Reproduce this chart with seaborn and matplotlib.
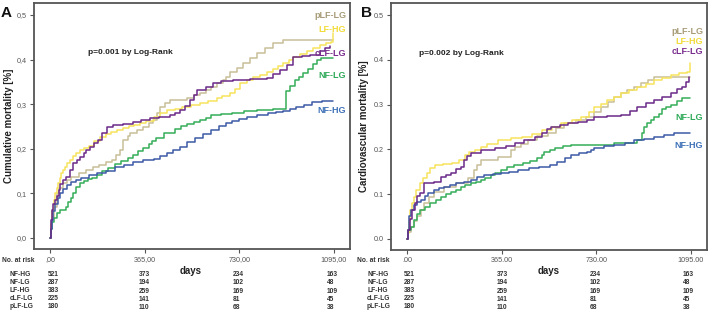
#!/usr/bin/env python3
# -*- coding: utf-8 -*-
"""Kaplan-Meier style cumulative mortality curves, two panels with risk tables."""

import pandas as pd
import matplotlib
matplotlib.use("Agg")
import matplotlib.pyplot as plt
import seaborn as sns

sns.set_style("white")
plt.rcParams['font.family'] = ['Liberation Sans', 'DejaVu Sans']

GROUPS = ['NF-HG', 'NF-LG', 'LF-HG', 'cLF-LG', 'pLF-LG']
COLORS = {
    'NF-HG': '#3d5aa6',
    'NF-LG': '#35ad57',
    'LF-HG': '#f6e35c',
    'cLF-LG': '#6b2a88',
    'pLF-LG': '#c9bf98',
}
LABEL_COLORS = {
    'NF-HG': '#3f72b8',
    'NF-LG': '#2faa5a',
    'LF-HG': '#f2dc3a',
    'cLF-LG': '#7a2e8e',
    'pLF-LG': '#a89c78',
}

# numbers at risk (same for both panels)
RISK_DAYS = [0, 365, 730, 1095]
RISK = {
    'NF-HG': [521, 373, 234, 163],
    'NF-LG': [287, 194, 102, 48],
    'LF-HG': [383, 259, 169, 109],
    'cLF-LG': [225, 141, 81, 45],
    'pLF-LG': [180, 110, 68, 38],
}

# ---- panel A: all-cause mortality ----
a_nfhg_t = [0, 2, 6, 12, 20, 30, 40, 50, 65, 80, 100, 120, 150, 180, 215, 250, 285, 320, 360, 400, 425, 450, 475,
            500, 530, 560, 590, 620, 650, 680, 700, 730, 760, 800, 840, 870, 900, 925, 950, 980, 1010, 1050, 1090]
a_nfhg_v = [0, 0.02, 0.04, 0.06, 0.075, 0.09, 0.1, 0.11, 0.118, 0.125, 0.13, 0.135, 0.14, 0.145, 0.15, 0.158, 0.163,
            0.17, 0.174, 0.178, 0.184, 0.19, 0.197, 0.205, 0.215, 0.225, 0.233, 0.243, 0.25, 0.257, 0.262, 0.267, 0.272,
            0.276, 0.28, 0.283, 0.285, 0.29, 0.293, 0.298, 0.305, 0.307, 0.307]
a_nflg_t = [0, 3, 8, 15, 25, 40, 60, 70, 80, 90, 100, 115, 130, 145, 160, 180, 200, 225, 250, 275, 300, 320, 340, 360,
            380, 395, 410, 440, 480, 505, 530, 555, 580, 600, 620, 660, 700, 750, 800, 860, 912, 925, 945, 960, 975,
            995, 1015, 1030, 1045, 1090]
a_nflg_v = [0, 0.02, 0.035, 0.045, 0.055, 0.062, 0.07, 0.08, 0.09, 0.1, 0.115, 0.122, 0.127, 0.131, 0.135, 0.142, 0.15,
            0.157, 0.165, 0.172, 0.18, 0.187, 0.195, 0.202, 0.21, 0.217, 0.225, 0.235, 0.245, 0.25, 0.255, 0.26, 0.265,
            0.27, 0.275, 0.278, 0.28, 0.284, 0.287, 0.29, 0.33, 0.34, 0.355, 0.362, 0.37, 0.38, 0.39, 0.399, 0.404, 0.404]
a_lfhg_t = [0, 3, 8, 14, 20, 26, 31, 38, 44, 50, 58, 66, 77, 88, 100, 116, 132, 150, 170, 193, 215, 236, 258, 280, 305,
            325, 347, 370, 400, 425, 450, 480, 510, 545, 578, 610, 643, 665, 694, 712, 732, 758, 784, 810, 836, 860,
            880, 898, 920, 937, 965, 990, 1015, 1040, 1065, 1085, 1093]
a_lfhg_v = [0, 0.03, 0.06, 0.085, 0.1, 0.113, 0.123, 0.135, 0.145, 0.152, 0.16, 0.168, 0.175, 0.183, 0.19, 0.197, 0.202,
            0.207, 0.217, 0.227, 0.232, 0.237, 0.242, 0.246, 0.25, 0.254, 0.258, 0.263, 0.272, 0.28, 0.287, 0.29, 0.294,
            0.298, 0.302, 0.307, 0.313, 0.318, 0.325, 0.335, 0.347, 0.354, 0.361, 0.366, 0.372, 0.38, 0.386, 0.392, 0.4,
            0.406, 0.413, 0.42, 0.427, 0.433, 0.437, 0.44, 0.46]
a_clflg_t = [0, 3, 8, 12, 18, 25, 33, 40, 50, 60, 75, 90, 102, 115, 130, 140, 154, 170, 185, 200, 219, 243, 280, 320,
             350, 385, 420, 462, 480, 501, 520, 540, 555, 566, 600, 630, 660, 706, 770, 836, 860, 887, 913, 937, 970,
             1002, 1040, 1060, 1080]
a_clflg_v = [0, 0.04, 0.063, 0.075, 0.085, 0.095, 0.108, 0.12, 0.13, 0.137, 0.152, 0.168, 0.175, 0.182, 0.19, 0.197,
             0.204, 0.212, 0.22, 0.235, 0.249, 0.253, 0.256, 0.26, 0.265, 0.269, 0.272, 0.276, 0.281, 0.287, 0.295,
             0.309, 0.32, 0.332, 0.338, 0.347, 0.351, 0.354, 0.356, 0.359, 0.368, 0.377, 0.388, 0.406, 0.408, 0.41,
             0.42, 0.425, 0.43]
a_plflg_t = [0, 4, 8, 15, 25, 35, 50, 65, 80, 110, 140, 165, 190, 215, 240, 255, 270, 282, 300, 310, 335, 360, 380, 398,
             412, 424, 445, 462, 527, 555, 578, 600, 620, 645, 668, 680, 694, 720, 745, 770, 797, 830, 860, 898, 1090]
a_plflg_v = [0, 0.03, 0.047, 0.07, 0.1, 0.112, 0.123, 0.13, 0.137, 0.145, 0.152, 0.158, 0.164, 0.17, 0.175, 0.185,
             0.197, 0.22, 0.228, 0.235, 0.242, 0.249, 0.257, 0.265, 0.28, 0.294, 0.302, 0.309, 0.313, 0.32, 0.325,
             0.332, 0.339, 0.347, 0.354, 0.362, 0.372, 0.382, 0.392, 0.403, 0.415, 0.426, 0.437, 0.444, 0.444]

# ---- panel B: cardiovascular mortality ----
b_nfhg_t = [0, 3, 8, 15, 25, 40, 54, 70, 81, 104, 125, 142, 165, 190, 220, 246, 270, 296, 330, 361, 395, 426, 470, 510,
            553, 580, 610, 634, 665, 695, 710, 722, 760, 799, 840, 876, 915, 953, 990, 1030, 1090]
b_nfhg_v = [0, 0.02, 0.05, 0.065, 0.075, 0.082, 0.087, 0.095, 0.103, 0.109, 0.113, 0.116, 0.12, 0.125, 0.128, 0.132,
            0.138, 0.143, 0.145, 0.147, 0.15, 0.154, 0.158, 0.161, 0.165, 0.172, 0.18, 0.188, 0.192, 0.195, 0.199,
            0.203, 0.207, 0.21, 0.215, 0.221, 0.224, 0.228, 0.232, 0.237, 0.237]
b_nflg_t = [0, 5, 15, 25, 40, 50, 70, 90, 110, 131, 150, 170, 190, 207, 225, 246, 265, 284, 300, 323, 340, 361, 385,
            411, 449, 475, 503, 520, 530, 550, 569, 600, 634, 700, 799, 887, 905, 914, 926, 940, 953, 970, 985, 1000,
            1018, 1040, 1060, 1090]
b_nflg_v = [0, 0.02, 0.027, 0.042, 0.055, 0.065, 0.072, 0.08, 0.087, 0.094, 0.1, 0.105, 0.11, 0.116, 0.12, 0.125,
            0.128, 0.132, 0.137, 0.143, 0.148, 0.154, 0.16, 0.165, 0.17, 0.175, 0.18, 0.188, 0.194, 0.199, 0.203,
            0.207, 0.21, 0.21, 0.214, 0.221, 0.237, 0.25, 0.259, 0.265, 0.272, 0.28, 0.29, 0.295, 0.3, 0.308, 0.315,
            0.315]
b_lfhg_t = [0, 3, 7, 12, 18, 25, 35, 50, 60, 75, 90, 108, 140, 173, 200, 223, 240, 261, 285, 310, 350, 400, 442, 480,
            519, 560, 595, 635, 672, 700, 722, 750, 772, 800, 826, 855, 887, 920, 953, 985, 1018, 1050, 1080, 1092]
b_lfhg_v = [0, 0.013, 0.04, 0.065, 0.08, 0.094, 0.11, 0.125, 0.135, 0.148, 0.158, 0.165, 0.168, 0.17, 0.176, 0.188,
            0.194, 0.199, 0.205, 0.212, 0.221, 0.225, 0.228, 0.235, 0.243, 0.25, 0.259, 0.265, 0.272, 0.283, 0.295,
            0.302, 0.31, 0.318, 0.326, 0.332, 0.339, 0.347, 0.355, 0.36, 0.366, 0.37, 0.373, 0.393]
b_clflg_t = [0, 3, 10, 20, 30, 40, 50, 65, 104, 131, 150, 170, 190, 207, 219, 232, 246, 284, 338, 380, 415, 450, 492,
             520, 540, 557, 590, 619, 660, 695, 722, 770, 826, 860, 887, 920, 953, 985, 1018, 1040, 1060, 1075, 1088]
b_clflg_v = [0, 0.02, 0.045, 0.065, 0.08, 0.095, 0.103, 0.125, 0.127, 0.138, 0.142, 0.147, 0.155, 0.161, 0.176, 0.185,
             0.192, 0.199, 0.203, 0.208, 0.214, 0.22, 0.228, 0.237, 0.245, 0.25, 0.255, 0.259, 0.262, 0.266, 0.272,
             0.274, 0.277, 0.285, 0.295, 0.303, 0.31, 0.318, 0.326, 0.335, 0.339, 0.35, 0.362]
b_plflg_t = [0, 5, 15, 25, 40, 55, 65, 85, 104, 142, 190, 234, 257, 270, 284, 350, 400, 415, 440, 465, 500, 542, 575,
             607, 650, 690, 720, 749, 775, 799, 825, 849, 875, 903, 930, 953, 1090]
b_plflg_v = [0, 0.015, 0.027, 0.04, 0.05, 0.065, 0.08, 0.093, 0.105, 0.116, 0.125, 0.136, 0.154, 0.165, 0.176, 0.183,
             0.199, 0.205, 0.213, 0.221, 0.229, 0.237, 0.248, 0.259, 0.265, 0.272, 0.283, 0.295, 0.306, 0.317, 0.325,
             0.333, 0.34, 0.348, 0.355, 0.362, 0.362]

PANEL_A = {
    'NF-HG': (a_nfhg_t, a_nfhg_v), 'NF-LG': (a_nflg_t, a_nflg_v),
    'LF-HG': (a_lfhg_t, a_lfhg_v), 'cLF-LG': (a_clflg_t, a_clflg_v),
    'pLF-LG': (a_plflg_t, a_plflg_v),
}
PANEL_B = {
    'NF-HG': (b_nfhg_t, b_nfhg_v), 'NF-LG': (b_nflg_t, b_nflg_v),
    'LF-HG': (b_lfhg_t, b_lfhg_v), 'cLF-LG': (b_clflg_t, b_clflg_v),
    'pLF-LG': (b_plflg_t, b_plflg_v),
}

W, H = 709, 312


def fx(px):
    return px / W


def fy(py):
    return 1 - py / H


def to_frame(curves):
    rows = []
    for g, (t, v) in curves.items():
        for ti, vi in zip(t, v):
            rows.append({'days': ti, 'value': vi, 'group': g})
    return pd.DataFrame(rows)


def draw_panel(fig, rect, curves, dec, ylabel, ylabel_x, ptext, ptext_x, label_y, letter, letter_x):
    ax = fig.add_axes(rect)
    df = to_frame(curves)
    # pale curves first so the darker ones sit on top
    order = ['pLF-LG', 'LF-HG', 'NF-LG', 'NF-HG', 'cLF-LG']
    for g in order:
        sub = df[df['group'] == g]
        sns.lineplot(data=sub, x='days', y='value', color=COLORS[g],
                     drawstyle='steps-post', estimator=None, sort=False,
                     linewidth=1.1, ax=ax, legend=False)
    ax.set_xlim(-62, 1157)
    ax.set_ylim(-0.025, 0.527)
    ax.set_xticks(RISK_DAYS)
    ax.set_xticklabels([dec + '00', '365' + dec + '00', '730' + dec + '00', '1095' + dec + '00'])
    ax.set_yticks([0, 0.1, 0.2, 0.3, 0.4, 0.5])
    ax.set_yticklabels(['0' + dec + str(i) for i in range(6)])
    ax.tick_params(axis='both', direction='out', length=3, width=0.8,
                   labelsize=5.2, colors='#555555', pad=2,
                   left=True, bottom=True)
    ax.set_xlabel('')
    ax.set_ylabel(ylabel, fontsize=7, fontweight='bold', color='#222222')
    ax.yaxis.set_label_coords(ylabel_x, 0.5)
    for s in ax.spines.values():
        s.set_color('#555555')
        s.set_linewidth(1.3)
    ax.text(ptext_x, 0.797, ptext, transform=ax.transAxes, fontsize=6,
            fontweight='bold', color='#222222', va='center')
    # group labels at the right end of the curves
    x_right = rect[0] + rect[2] - fx(4)
    for g, y in label_y.items():
        fig.text(x_right, fy(y), g, ha='right', va='center', fontsize=6.5,
                 fontweight='bold', color=LABEL_COLORS[g])
    fig.text(fx(letter_x), fy(13), letter, fontsize=11, fontweight='bold',
             va='center', ha='left', color='#111111')
    return ax


fig = plt.figure(figsize=(W / 100, H / 100), dpi=100)

rect_a = [fx(34), fy(249), fx(350 - 34), (249 - 3) / H]
rect_b = [fx(391), fy(250), fx(707 - 391), (250 - 3) / H]

draw_panel(fig, rect_a, PANEL_A, ',', 'Cumulative mortality [%]', -0.064,
           'p=0.001 by Log-Rank', 0.17,
           {'pLF-LG': 15, 'LF-HG': 29, 'cLF-LG': 54, 'NF-LG': 76, 'NF-HG': 110}, 'A', 1)
draw_panel(fig, rect_b, PANEL_B, '.', 'Cardiovascular mortality [%]', -0.07,
           'p=0.002 by Log-Rank', 0.09,
           {'pLF-LG': 31, 'LF-HG': 41, 'cLF-LG': 51, 'NF-LG': 118, 'NF-HG': 146}, 'B', 361)

# risk tables
row_y = [274, 282, 290.5, 299, 307]
tables = [
    {'left': 2, 'lab': 10, 'cols': [48, 139, 233, 327], 'days': 191},
    {'left': 357, 'lab': 367, 'cols': [404, 497, 590, 683], 'days': 549},
]
for tb in tables:
    fig.text(fx(tb['left']), fy(260), 'No. at risk', fontsize=4.8, fontweight='bold',
             color='#333333', va='center')
    fig.text(fx(tb['days']), fy(271), 'days', fontsize=7, fontweight='bold',
             color='#222222', va='center', ha='center')
    for g, y in zip(GROUPS, row_y):
        fig.text(fx(tb['lab']), fy(y), g, fontsize=4.8, fontweight='bold',
                 color='#333333', va='center')
        for x, n in zip(tb['cols'], RISK[g]):
            fig.text(fx(x), fy(y + (0.8 if x != tb['cols'][0] else 0)), str(n),
                     fontsize=4.8, fontweight='bold', color='#333333', va='center')

fig.savefig('out.png', dpi=100)
